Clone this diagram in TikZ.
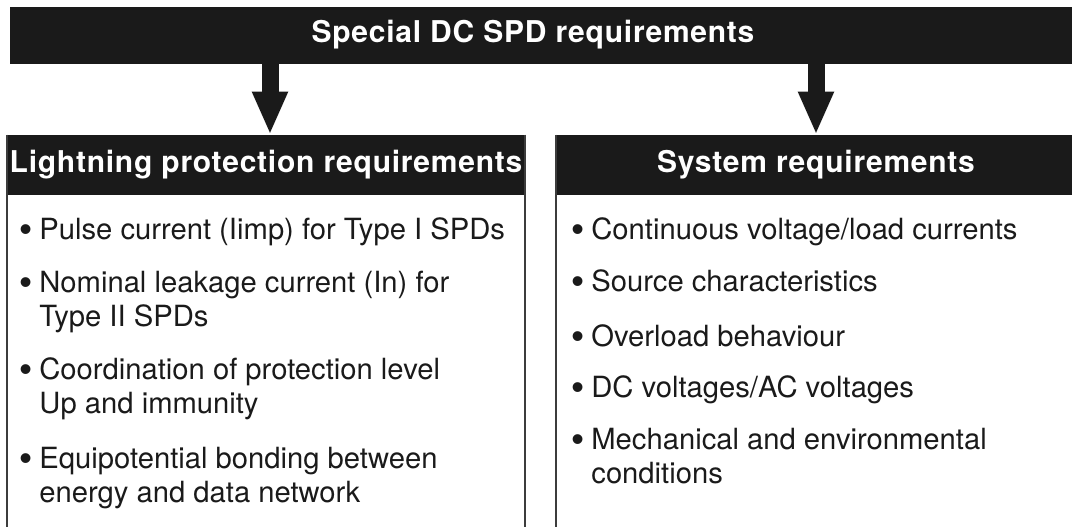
\documentclass[tikz,border=0pt]{standalone}
\usepackage{fontspec}
\setmainfont{TeX Gyre Heros}
\newfontfamily\headfont{TeX Gyre Heros}[LetterSpace=2.5]
\newfontfamily\bulletfont{Liberation Sans}
\usetikzlibrary{arrows.meta}
\definecolor{ink}{HTML}{1A1A1A}
\newcommand{\itm}{\makebox[10pt][l]{\raisebox{-1pt}{\bulletfont\fontsize{18}{17}\selectfont\textbullet}}}
\newcommand{\cont}{\hspace*{10pt}}
\tikzset{
  titlebar/.style={fill=ink, draw=ink, text=white, inner sep=0pt,
    font=\headfont\bfseries\fontsize{15}{18}\selectfont},
  boxline/.style={draw=ink!85, line width=1pt},
  flow/.style={draw=ink, line width=8.5pt,
    -{Triangle[length=21.5pt,width=16.5pt]}},
  item/.style={anchor=base west, align=left, text=ink, inner sep=0pt,
    font=\fontsize{14.6}{17}\selectfont}
}
\begin{document}
\begin{tikzpicture}[x=0.5pt,y=-0.5pt]
  \useasboundingbox (0,0) rectangle (1072,526);
  % title bar and the two column heads
  \node[titlebar, minimum width=531pt, minimum height=28pt] (top) at (541,35)
    {Special DC SPD requirements\hspace*{8pt}};
  \node[titlebar, minimum width=259pt, minimum height=29.5pt] (lhead) at (266,164.5)
    {Lightning protection requirements};
  \node[titlebar, minimum width=260pt, minimum height=29.5pt] (rhead) at (816,164.5)
    {System requirements};
  \coordinate (ltip) at ([xshift=2pt]lhead.north);
  % column frames, open at the bottom
  \draw[boxline] (lhead.north west) -- ++(0,400);
  \draw[boxline] (lhead.north east) -- ++(0,400);
  \draw[boxline] (rhead.north west) -- ++(0,400);
  % arrows
  \draw[flow] (top.south -| ltip) -- (ltip);
  \draw[flow] (top.south -| rhead.north) -- (rhead.north);
  % left column (two-line items sit on their last line)
  \node[item] (l1) at (19,239) {\itm Pulse current (Iimp) for Type I SPDs};
  \node[item] (l2) at (19,326) {\itm Nominal leakage current (In) for\\\cont Type II SPDs};
  \node[item] (l3) at (19,413) {\itm Coordination of protection level\\\cont Up and immunity};
  \node[item] (l4) at (19,502) {\itm Equipotential bonding between\\\cont energy and data network};
  % right column
  \node[item] (r1) at (571,239) {\itm Continuous voltage/load currents};
  \node[item] (r2) at (571,291) {\itm Source characteristics};
  \node[item] (r3) at (571,346) {\itm Overload behaviour};
  \node[item] (r4) at (571,397) {\itm DC voltages/AC voltages};
  \node[item] (r5) at (571,483) {\itm Mechanical and environmental\\\cont conditions};
\end{tikzpicture}
\end{document}
